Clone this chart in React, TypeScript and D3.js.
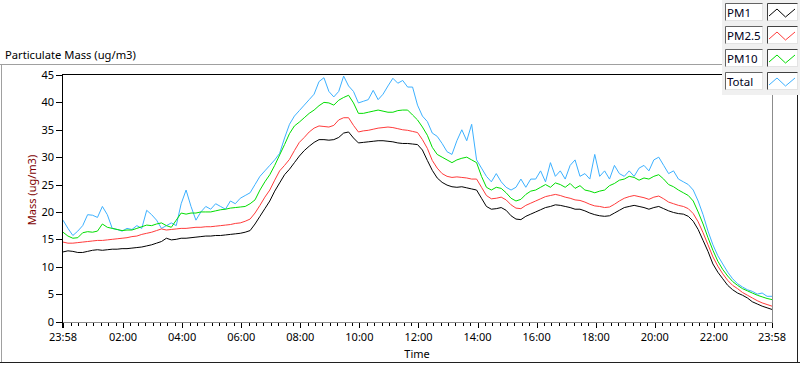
import React from "react";
import * as d3 from "d3";

// samples every 10 minutes, starting 23:58
const startTime = new Date(2020, 0, 1, 23, 58);
const stepMinutes = 10;

const pm1 = [
  12.7, 12.9, 12.8, 12.6, 12.6, 12.8,
  13.0, 13.1, 13.0, 13.1, 13.2, 13.2,
  13.3, 13.3, 13.4, 13.5, 13.6, 13.8,
  14.0, 14.3, 14.6, 15.2, 14.9, 15.0,
  15.2, 15.2, 15.3, 15.4, 15.5, 15.6,
  15.6, 15.7, 15.7, 15.8, 15.9, 16.0,
  16.1, 16.3, 16.6, 17.8, 19.2, 20.6,
  22.0, 23.8, 25.3, 26.8, 27.8, 29.0,
  30.2, 31.2, 32.0, 32.7, 33.2, 33.2,
  33.1, 33.2, 33.6, 34.4, 34.6, 33.5,
  32.6, 32.7, 32.8, 32.9, 33.0, 33.0,
  32.9, 32.8, 32.6, 32.5, 32.5, 32.4,
  32.3, 31.3, 29.4, 27.6, 26.2, 25.4,
  24.9, 24.6, 24.5, 24.6, 24.4, 24.2,
  24.0, 22.5, 21.0, 20.5, 20.6, 20.8,
  20.3, 19.3, 18.7, 18.6, 19.2, 19.6,
  20.0, 20.4, 20.8, 21.0, 21.3, 21.2,
  21.0, 20.8, 20.5, 20.5, 20.2, 19.8,
  19.5, 19.3, 19.2, 19.3, 19.8, 20.3,
  20.8, 21.0, 21.2, 21.0, 20.8, 20.5,
  20.8, 21.0, 20.6, 20.2, 19.9, 19.7,
  19.6, 19.2, 18.3, 16.8, 14.8, 12.8,
  10.5, 9.0, 7.8, 6.6, 5.8, 5.2,
  4.8, 4.3, 3.6, 3.2, 2.8, 2.5,
  2.2,
];

const pm25 = [
  14.5, 14.3, 14.3, 14.4, 14.5, 14.6,
  14.7, 14.8, 14.8, 14.9, 15.0, 15.1,
  15.2, 15.3, 15.5, 15.6, 15.9, 16.1,
  16.3, 16.6, 16.9, 16.7, 16.8, 16.9,
  17.0, 17.0, 17.1, 17.2, 17.2, 17.3,
  17.3, 17.4, 17.5, 17.6, 17.7, 17.9,
  18.0, 18.3, 18.7, 19.8, 21.2, 22.7,
  24.0, 25.8, 27.5, 28.5, 29.6, 31.2,
  32.7, 33.6, 34.6, 35.3, 35.7, 35.6,
  35.5, 35.8, 36.8, 37.2, 37.2, 35.8,
  34.6, 34.8, 34.9, 35.1, 35.3, 35.4,
  35.5, 35.4, 35.2, 35.0, 34.9, 34.7,
  34.5, 33.2, 31.6, 29.4, 28.0, 27.0,
  26.5, 26.3, 26.4, 26.3, 26.2, 26.0,
  26.0, 24.5, 23.0, 22.4, 22.5, 22.7,
  22.2, 21.3, 20.7, 20.6, 21.2, 21.6,
  22.0, 22.4, 22.8, 23.0, 23.2, 23.0,
  22.7, 22.5, 22.2, 22.1, 21.8, 21.4,
  21.1, 21.0, 20.8, 20.9, 21.4, 22.0,
  22.5, 22.8, 23.0, 22.8, 22.6, 22.3,
  22.7, 22.9, 22.4, 21.8, 21.5, 21.2,
  21.0, 20.6, 19.7, 18.2, 16.2, 14.0,
  11.8, 10.1, 8.7, 7.5, 6.6, 6.0,
  5.3, 4.8, 4.3, 3.8, 3.4, 3.1,
  2.8,
];

const pm10 = [
  16.3, 15.6, 15.2, 15.3, 16.2, 16.4,
  16.3, 16.5, 17.8, 17.2, 17.0, 16.8,
  16.6, 16.7, 16.7, 17.0, 17.3, 17.6,
  17.5, 17.8, 18.0, 17.5, 17.2, 18.5,
  19.8, 19.6, 19.8, 19.8, 20.0, 20.0,
  20.0, 20.2, 20.4, 20.5, 20.7, 20.8,
  20.9, 21.0, 21.5, 22.2, 24.0, 25.5,
  26.8, 28.5, 30.4, 32.3, 34.3, 35.7,
  36.4, 37.2, 38.0, 38.6, 39.4, 40.0,
  39.9, 39.5, 40.4, 40.9, 41.3, 39.9,
  38.0, 38.0, 38.2, 38.4, 38.6, 38.4,
  38.2, 38.2, 38.5, 38.6, 38.6, 37.7,
  36.8, 35.5, 34.0, 31.8, 30.5, 30.0,
  29.5, 29.0, 29.5, 29.8, 30.0, 29.5,
  29.0, 26.5, 24.5, 24.0, 24.5, 24.3,
  23.5, 22.5, 22.0, 22.3, 23.2, 23.8,
  24.0, 24.5, 25.0, 24.5, 25.3, 25.0,
  24.5, 25.2, 24.3, 24.8, 24.0, 23.8,
  23.5, 23.8, 24.0, 24.8, 25.2, 25.8,
  26.0, 26.5, 26.3, 25.8, 26.2, 26.0,
  26.5, 26.8, 26.0, 25.0, 24.6, 24.0,
  23.5, 23.0, 22.0, 20.0, 17.8, 15.3,
  13.0, 11.0, 9.5, 8.3, 7.3, 6.6,
  6.0, 5.6, 5.2, 4.8, 4.5, 4.2,
  4.0,
];

const total = [
  18.5, 17.0, 15.7, 16.5, 17.5, 19.5,
  19.4, 19.0, 21.0, 19.5, 17.0, 16.8,
  16.5, 17.0, 16.8, 17.5, 17.0, 20.3,
  19.5, 18.5, 17.0, 17.5, 18.0, 17.5,
  21.5, 24.0, 21.0, 18.5, 20.0, 21.0,
  20.5, 21.5, 21.0, 20.5, 22.0, 21.5,
  22.5, 23.0, 23.5, 25.0, 26.5, 27.5,
  28.5, 29.5, 30.7, 33.5, 36.0, 37.5,
  38.5, 39.5, 40.5, 41.5, 43.8, 44.5,
  42.0, 41.0, 42.0, 44.8, 43.0, 42.0,
  39.9, 40.2, 40.5, 42.2, 40.5, 41.5,
  43.0, 44.4, 43.5, 44.0, 42.8, 42.8,
  39.5, 37.5, 36.5, 34.4, 33.8, 32.5,
  31.0, 30.5, 33.0, 35.0, 33.0, 36.0,
  29.5, 28.0, 26.5, 25.5, 27.0, 25.5,
  24.5, 24.0, 24.5, 26.0, 24.5, 26.0,
  26.0, 27.5, 25.5, 29.0, 26.5, 27.5,
  26.0, 28.5, 29.5, 26.5, 27.0, 26.0,
  30.5, 26.5, 27.5, 26.0, 28.5, 27.0,
  26.5, 27.5, 26.5, 28.0, 28.5, 27.5,
  29.5, 30.0, 28.5, 27.0, 27.5, 26.0,
  25.5, 25.0, 24.0, 22.0, 19.5, 16.5,
  14.0, 12.0, 10.5, 9.0, 7.8, 6.9,
  6.3, 5.8, 5.5, 5.0, 5.2, 4.6,
  4.6,
];

const seriesNames = ["PM1", "PM2.5", "PM10", "Total"];
const seriesColors = ["#000000", "#ff3b3b", "#00dd00", "#3cb0ff"];
const seriesValues = [pm1, pm25, pm10, total];

const yTicks = [0, 5, 10, 15, 20, 25, 30, 35, 40, 45];
const xTickLabels = ["23:58", "02:00", "04:00", "06:00", "08:00", "10:00", "12:00",
  "14:00", "16:00", "18:00", "20:00", "22:00", "23:58"];

const width = 800;
const height = 365;
const plotLeft = 63;
const plotRight = 772;
const plotTop = 75;
const plotBottom = 321.5;

const endTime = d3.timeDay.offset(startTime, 1);
const xTickTimes = xTickLabels.map((label, i) => {
  if (i === 0) return startTime;
  if (i === xTickLabels.length - 1) return endTime;
  const [hh, mm] = label.split(":").map(Number);
  return new Date(2020, 0, 2, hh, mm);
});

const timeAt = (i: number) => d3.timeMinute.offset(startTime, i * stepMinutes);

export default function App() {
  const x = d3.scaleTime().domain([startTime, endTime]).range([plotLeft, plotRight]);
  const y = d3.scaleLinear().domain([0, 45]).range([plotBottom, plotTop]);

  const line = d3
    .line<number>()
    .x((d, i) => x(timeAt(i)))
    .y((d) => y(d));

  // minor ticks: 8 steps between each pair of labelled ticks
  const minorTicks: number[] = [];
  for (let k = 0; k < xTickTimes.length - 1; k++) {
    const a = x(xTickTimes[k]);
    const b = x(xTickTimes[k + 1]);
    for (let j = 1; j < 8; j++) minorTicks.push(a + ((b - a) * j) / 8);
  }

  const px = (v: number) => Math.round(v) + 0.5;
  const legendRows = [3, 26, 49, 72];

  return (
    <div style={{ position: "absolute", left: 0, top: 0 }}>
      <svg width={width} height={height} fontFamily="'Noto Sans', sans-serif" fontSize={11}>
        <rect x={0} y={0} width={width} height={height} fill="#ffffff" />

        {/* outer frame */}
        <line x1={0} x2={722} y1={64.5} y2={64.5} stroke="#a0a0a0" />
        <line x1={1.5} x2={1.5} y1={64} y2={363} stroke="#a0a0a0" />
        <line x1={0} x2={800} y1={362.5} y2={362.5} stroke="#202020" />
        <line x1={797.5} x2={797.5} y1={95} y2={363} stroke="#202020" />

        <text x={5} y={59} fontSize={11.2} fill="#000">Particulate Mass (ug/m3)</text>

        {/* plot frame */}
        <line x1={62} x2={773} y1={74.5} y2={74.5} stroke="#000" />
        <line x1={772.5} x2={772.5} y1={74} y2={323} stroke="#8c8c8c" />
        <line x1={62} x2={773} y1={322.5} y2={322.5} stroke="#8c8c8c" />
        <line x1={62.5} x2={62.5} y1={74} y2={328} stroke="#000" />

        {/* y axis */}
        {yTicks.map((t) => (
          <g key={t}>
            <line x1={56} x2={62} y1={px(y(t))} y2={px(y(t))} stroke="#000" />
            <text x={54} y={y(t) + 4} textAnchor="end" fill="#000">{t}</text>
          </g>
        ))}
        <text
          transform={`translate(36,190) rotate(-90)`}
          textAnchor="middle"
          fill="#800000"
        >
          Mass (ug/m3)
        </text>

        {/* x axis */}
        {minorTicks.map((t, i) => (
          <line key={i} x1={px(t)} x2={px(t)} y1={323} y2={326} stroke="#000" />
        ))}
        {xTickTimes.map((t, i) => (
          <g key={i}>
            <line x1={px(x(t))} x2={px(x(t))} y1={323} y2={328} stroke="#000" />
            <text x={x(t)} y={340.5} textAnchor="middle" fill="#000">{xTickLabels[i]}</text>
          </g>
        ))}
        <text x={417} y={358} textAnchor="middle" fill="#000">Time</text>

        {/* series */}
        <defs>
          <clipPath id="plotClip">
            <rect x={63} y={75} width={plotRight - 63} height={plotBottom - 74} />
          </clipPath>
        </defs>
        <g clipPath="url(#plotClip)">
          {[3, 2, 1, 0].map((s) => (
            <path
              key={s}
              d={line(seriesValues[s]) || ""}
              fill="none"
              stroke={seriesColors[s]}
              strokeWidth={1}
              strokeLinejoin="round"
            />
          ))}
        </g>

        {/* legend */}
        <rect x={722} y={0} width={78} height={95} fill="#f0f0f0" />
        {legendRows.map((ry, s) => (
          <g key={s}>
            <rect x={725.5} y={ry + 0.5} width={37} height={17} fill="#fff" stroke="#e3e3e3" />
            <path d={`M725.5,${ry + 17.5}V${ry + 0.5}H762.5`} fill="none" stroke="#646464" />
            <text x={727} y={ry + 13.5} fontSize={11.5} fill="#000020">{seriesNames[s]}</text>
            <rect x={767.5} y={ry + 0.5} width={30} height={17} fill="#fff" stroke="#e3e3e3" />
            <path d={`M767.5,${ry + 17.5}V${ry + 0.5}H797.5`} fill="none" stroke="#404040" />
            <polyline
              points={`769,${ry + 13} 777,${ry + 6} 785.5,${ry + 14} 795,${ry + 6}`}
              fill="none"
              stroke={seriesColors[s]}
            />
          </g>
        ))}
      </svg>
    </div>
  );
}
